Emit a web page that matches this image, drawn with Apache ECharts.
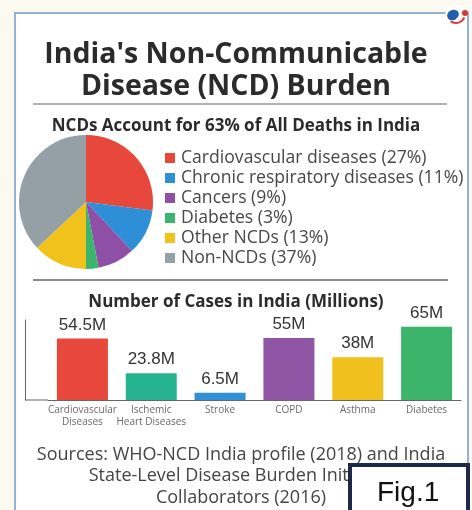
<!DOCTYPE html>
<html>
<head>
<meta charset="utf-8">
<script src="https://cdn.jsdelivr.net/npm/echarts@6/dist/echarts.min.js"></script>
<style>html,body{margin:0;padding:0;background:#fcf9f1;}#c{width:472px;height:510px;}</style>
</head>
<body>
<div id="c"></div>
<script>
const pieNames = ['Cardiovascular diseases', 'Chronic respiratory diseases', 'Cancers', 'Diabetes', 'Other NCDs', 'Non-NCDs'];
const pieValues = [27, 11, 9, 3, 13, 37];
const pieColors = ['#e8473c', '#2f8fd6', '#8e4fa6', '#3bb56c', '#f1c11c', '#95a0a6'];

const barCategories = ['Cardiovascular\nDiseases', 'Ischemic\nHeart Diseases', 'Stroke', 'COPD', 'Asthma', 'Diabetes'];
const barValues = [54.5, 23.8, 6.5, 55, 38, 65];
const barLabels = ['54.5M', '23.8M', '6.5M', '55M', '38M', '65M'];
const barColors = ['#e8473c', '#25b48f', '#2f8fd8', '#9155a5', '#f0c01f', '#3cb56b'];

const chart = echarts.init(document.getElementById('c'), null, {renderer: 'canvas'});
const FONT = '"Open Sans", "DejaVu Sans", sans-serif';

chart.setOption({
  backgroundColor: '#fcf9f1',
  animation: false,
  title: [
    {text: "India's Non-Communicable\nDisease (NCD) Burden", left: 'center', top: 34,
     textStyle: {fontFamily: FONT, fontSize: 28.5, fontWeight: 'bold', lineHeight: 32, color: '#2b2b2b'}},
    {text: 'NCDs Account for 63% of All Deaths in India', left: 'center', top: 111,
     textStyle: {fontFamily: FONT, fontSize: 17, fontWeight: 'bold', lineHeight: 20, color: '#2b2b2b'}},
    {text: 'Number of Cases in India (Millions)', left: 'center', top: 287,
     textStyle: {fontFamily: FONT, fontSize: 17, fontWeight: 'bold', lineHeight: 20, color: '#2b2b2b'}}
  ],
  legend: {
    orient: 'vertical', left: 160, top: 143, itemGap: 0,
    icon: 'rect', itemWidth: 10, itemHeight: 10, selectedMode: false,
    data: pieNames,
    formatter: function (name) { return name + ' (' + pieValues[pieNames.indexOf(name)] + '%)'; },
    textStyle: {fontFamily: FONT, fontSize: 17.6, color: '#474747', lineHeight: 20, padding: [0, 0, 0, 1]}
  },
  grid: {left: 48, right: 11, top: 320, bottom: 110},
  xAxis: {
    type: 'category', data: barCategories,
    axisLine: {show: true, lineStyle: {color: '#666', width: 1}},
    axisTick: {show: false},
    axisLabel: {interval: 0, fontFamily: FONT, fontSize: 10, lineHeight: 12, color: '#6a6a6a', margin: 4}
  },
  yAxis: {
    type: 'value', min: 0, max: 71, offset: 23,
    axisLine: {show: true, lineStyle: {color: '#666', width: 1}},
    axisTick: {show: false}, axisLabel: {show: false}, splitLine: {show: false}
  },
  series: [
    {
      type: 'pie', center: [86, 202], radius: 67, startAngle: 90, clockwise: true,
      label: {show: false}, labelLine: {show: false}, silent: true,
      data: pieNames.map((n, i) => ({name: n, value: pieValues[i], itemStyle: {color: pieColors[i]}}))
    },
    {
      type: 'bar', barWidth: 51, silent: true,
      data: barValues.map((v, i) => ({value: v, itemStyle: {color: barColors[i]},
        label: {formatter: barLabels[i]}})),
      label: {show: true, position: 'top', distance: 5, fontFamily: '"Liberation Sans", Arial, sans-serif', fontSize: 17, color: '#333'}
    }
  ],
  graphic: [
    {type: 'rect', z: 0, shape: {x: 15, y: 13, width: 453, height: 520},
     style: {fill: '#ffffff', stroke: '#93b3ce', lineWidth: 2}},
    {type: 'line', z: 1, shape: {x1: 33, y1: 104, x2: 447, y2: 104}, style: {stroke: '#9a9a9a', lineWidth: 1.5}},
    {type: 'line', z: 1, shape: {x1: 33, y1: 280, x2: 448, y2: 280}, style: {stroke: '#8a8a8a', lineWidth: 2}},
    {type: 'line', z: 1, shape: {x1: 25, y1: 400, x2: 48, y2: 400}, style: {stroke: '#666', lineWidth: 1}},
    {type: 'text', z: 10, style: {x: 241, y: 444, text: 'Sources: WHO-NCD India profile (2018) and India\nState-Level Disease Burden Initiative\nCollaborators (2016)',
      textAlign: 'center', textVerticalAlign: 'top', fontFamily: FONT, fontSize: 18, lineHeight: 21.5, fill: '#444'}},
    {type: 'circle', z: 5, shape: {cx: 456, cy: 16, r: 11}, style: {fill: '#ffffff'}},
    {type: 'ellipse', z: 6, shape: {cx: 453, cy: 15, rx: 6, ry: 5}, rotation: 0.5, originX: 453, originY: 15, style: {fill: '#1f5fb0'}},
    {type: 'circle', z: 6, shape: {cx: 465, cy: 13, r: 3}, style: {fill: '#d9383a'}},
    {type: 'arc', z: 6, shape: {cx: 456, cy: 14, r: 9, startAngle: 0.4, endAngle: 2.2}, style: {stroke: '#d9383a', lineWidth: 2, fill: null}},
    {type: 'rect', z: 100, shape: {x: 350, y: 465, width: 118, height: 60},
     style: {fill: '#ffffff', stroke: '#1c2a46', lineWidth: 4}},
    {type: 'text', z: 101, left: 377, top: 479,
     style: {text: 'Fig.1', fontFamily: '"Liberation Sans", Arial, sans-serif', fontSize: 28, fill: '#111'}}
  ]
});
</script>
</body>
</html>
